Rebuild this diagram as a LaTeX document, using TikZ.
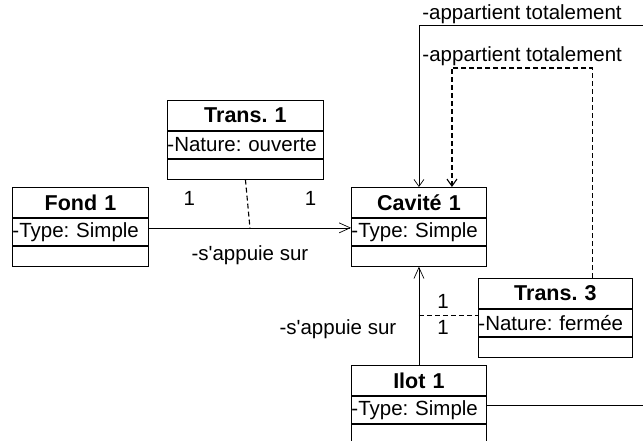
\documentclass[tikz,border=0pt]{standalone}
\usepackage{fontspec}
\setmainfont{Liberation Sans}
\usetikzlibrary{arrows.meta, positioning, calc}
\frenchspacing

\begin{document}
\begin{tikzpicture}[
  x=1pt, y=-1pt,
  font=\fontsize{20.5}{24}\selectfont,
  box/.style={draw, line width=0.9pt, inner sep=0pt},
  cname/.style={box, font=\fontsize{21.5}{25}\selectfont\bfseries,
                text width=#1, align=center, minimum height=30pt},
  cattr/.style={box, text width=#1, align=left, minimum height=27pt},
  cops/.style={box, minimum width=#1, minimum height=20pt},
  assoc/.style={line width=0.7pt, -{Straight Barb[length=11pt, width=10pt]}},
  owns/.style={line width=0.7pt, -{Straight Barb[length=7pt, width=10pt]}},
  dep/.style={line width=1.1pt, dash pattern=on 5pt off 3pt},
  link/.style={line width=0.7pt},
  mult/.style={inner sep=1pt}]
  \useasboundingbox (0,0) rectangle (643,441);

  % classes
  \node[cname=136pt, anchor=north west] (fond) at (12,187) {Fond 1};
  \node[cattr=136pt, below=0pt of fond]     (fondattr) {-Type: Simple};
  \node[cops=136pt, below=0pt of fondattr]  (fondops)  {};

  \node[cname=156pt, anchor=north west] (trA) at (167,100) {Trans. 1};
  \node[cattr=156pt, below=0pt of trA]      (trAattr) {-Nature: ouverte};
  \node[cops=156pt, below=0pt of trAattr]   (trAops)  {};

  \node[cname=135pt, anchor=north west] (cav) at (351,187) {Cavité 1};
  \node[cattr=135pt, below=0pt of cav]      (cavattr) {-Type: Simple};
  \node[cops=135pt, below=0pt of cavattr]   (cavops)  {};

  \node[cname=154pt, anchor=north west] (trC) at (478,278) {Trans. 3};
  \node[cattr=154pt, below=0pt of trC]      (trCattr) {-Nature: fermée};
  \node[cops=154pt, below=0pt of trCattr]   (trCops)  {};

  \node[cname=135pt, anchor=north west] (ilot) at (351,365) {Ilot 1};
  \node[cattr=135pt, below=0pt of ilot]     (ilotattr) {-Type: Simple};
  \node[cops=135pt, below=0pt of ilotattr]  (ilotops)  {};

  % associations
  \draw[assoc] ([yshift=4pt]fondattr.east)
    -- node[mult, pos=0.2, yshift=29pt] (mA) {1}
       node[mult, pos=0.8, yshift=29pt] (mB) {1}
       node[mult, midway, yshift=-27pt] (rA) {-s\textquotesingle appuie sur}
       coordinate[midway] (fcmid)
       ([yshift=4pt]cavattr.west);
  \draw[dep] (trAops.south) -- (fcmid);

  \draw[assoc] (ilot.north)
    -- node[mult, pos=0.65, xshift=24pt] (mC) {1}
       node[mult, pos=0.38, xshift=24pt] (mD) {1}
       node[mult, pos=0.36, xshift=-81pt] (rB) {-s\textquotesingle appuie sur}
       coordinate[midway] (icmid)
       (cavops.south);
  \draw[dep] (icmid) -- (icmid -| trCattr.west);

  % ownership
  \coordinate (farright) at (660,25);
  \draw[owns] (farright) -| node[pos=0.5, anchor=south west, inner sep=1pt, xshift=2pt] (rC)
    {-appartient totalement} (cav.north);

  \coordinate (trCout) at ([xshift=37pt]trC.north);
  \coordinate (cavin) at ([xshift=33pt]cav.north);
  \draw[owns, dep] (trCout) -- (trCout |- 0,68)
    -- node[above, inner sep=2pt] (rD) {-appartient totalement} (cavin |- 0,68)
    -- (cavin);

  \draw[link] ([yshift=5pt]ilotattr.east) -- ++(170,0) coordinate (ilotout);
\end{tikzpicture}
\end{document}
